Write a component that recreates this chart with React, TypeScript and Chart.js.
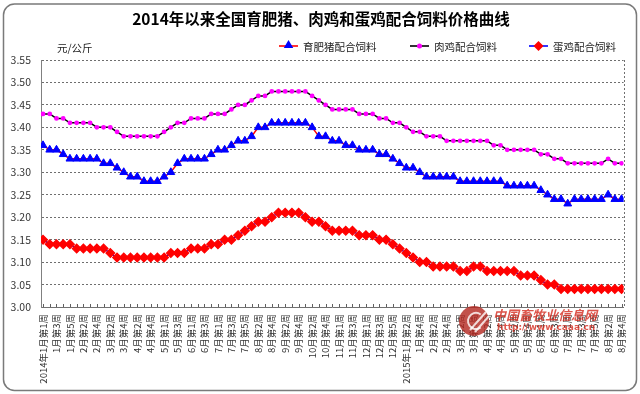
import React, { useEffect, useRef } from 'react';
import { Chart, registerables } from 'chart.js';

Chart.register(...registerables);

const chartTitle = '2014年以来全国育肥猪、肉鸡和蛋鸡配合饲料价格曲线';
const unitLabel = '元/公斤';
const seriesNames = ['育肥猪配合饲料', '肉鸡配合饲料', '蛋鸡配合饲料'];

// tick labels, one for every second weekly point
const weekLabels = [
  '2014年1月第1周', '1月第3周', '1月第5周', '2月第2周', '2月第4周', '3月第2周', '3月第4周',
  '4月第2周', '4月第4周', '5月第1周', '5月第3周', '6月第1周', '6月第3周', '7月第1周',
  '7月第3周', '7月第5周', '8月第2周', '8月第4周', '9月第2周', '9月第4周', '10月第2周',
  '10月第4周', '11月第1周', '11月第3周', '12月第1周', '12月第3周', '12月第5周',
  '2015年1月第2周', '1月第4周', '2月第2周', '2月第4周', '3月第2周', '3月第4周', '4月第2周',
  '4月第4周', '5月第2周', '5月第4周', '6月第1周', '6月第3周', '7月第1周', '7月第3周',
  '7月第5周', '8月第2周', '8月第4周',
];

// 育肥猪配合饲料 (weekly)
const pigFeed = [
  3.36, 3.35, 3.35, 3.34, 3.33, 3.33, 3.33, 3.33, 3.33, 3.32,
  3.32, 3.31, 3.30, 3.29, 3.29, 3.28, 3.28, 3.28, 3.29, 3.30,
  3.32, 3.33, 3.33, 3.33, 3.33, 3.34, 3.35, 3.35, 3.36, 3.37,
  3.37, 3.38, 3.40, 3.40, 3.41, 3.41, 3.41, 3.41, 3.41, 3.41,
  3.40, 3.38, 3.38, 3.37, 3.37, 3.36, 3.36, 3.35, 3.35, 3.35,
  3.34, 3.34, 3.33, 3.32, 3.31, 3.31, 3.30, 3.29, 3.29, 3.29,
  3.29, 3.29, 3.28, 3.28, 3.28, 3.28, 3.28, 3.28, 3.28, 3.27,
  3.27, 3.27, 3.27, 3.27, 3.26, 3.25, 3.24, 3.24, 3.23, 3.24,
  3.24, 3.24, 3.24, 3.24, 3.25, 3.24, 3.24,
];

// 肉鸡配合饲料 (weekly)
const broilerFeed = [
  3.43, 3.43, 3.42, 3.42, 3.41, 3.41, 3.41, 3.41, 3.40, 3.40,
  3.40, 3.39, 3.38, 3.38, 3.38, 3.38, 3.38, 3.38, 3.39, 3.40,
  3.41, 3.41, 3.42, 3.42, 3.42, 3.43, 3.43, 3.43, 3.44, 3.45,
  3.45, 3.46, 3.47, 3.47, 3.48, 3.48, 3.48, 3.48, 3.48, 3.48,
  3.47, 3.46, 3.45, 3.44, 3.44, 3.44, 3.44, 3.43, 3.43, 3.43,
  3.42, 3.42, 3.41, 3.41, 3.40, 3.39, 3.39, 3.38, 3.38, 3.38,
  3.37, 3.37, 3.37, 3.37, 3.37, 3.37, 3.37, 3.36, 3.36, 3.35,
  3.35, 3.35, 3.35, 3.35, 3.34, 3.34, 3.33, 3.33, 3.32, 3.32,
  3.32, 3.32, 3.32, 3.32, 3.33, 3.32, 3.32,
];

// 蛋鸡配合饲料 (weekly)
const layerFeed = [
  3.15, 3.14, 3.14, 3.14, 3.14, 3.13, 3.13, 3.13, 3.13, 3.13,
  3.12, 3.11, 3.11, 3.11, 3.11, 3.11, 3.11, 3.11, 3.11, 3.12,
  3.12, 3.12, 3.13, 3.13, 3.13, 3.14, 3.14, 3.15, 3.15, 3.16,
  3.17, 3.18, 3.19, 3.19, 3.20, 3.21, 3.21, 3.21, 3.21, 3.20,
  3.19, 3.19, 3.18, 3.17, 3.17, 3.17, 3.17, 3.16, 3.16, 3.16,
  3.15, 3.15, 3.14, 3.13, 3.12, 3.11, 3.10, 3.10, 3.09, 3.09,
  3.09, 3.09, 3.08, 3.08, 3.09, 3.09, 3.08, 3.08, 3.08, 3.08,
  3.08, 3.07, 3.07, 3.07, 3.06, 3.05, 3.05, 3.04, 3.04, 3.04,
  3.04, 3.04, 3.04, 3.04, 3.04, 3.04, 3.04,
];

const Y_MIN = 3.0;
const Y_MAX = 3.55;
const Y_STEP = 0.05;

const FONT = "'Noto Sans CJK SC', 'DejaVu Sans', sans-serif";

function drawTriangle(ctx: CanvasRenderingContext2D, x: number, y: number, r: number) {
  ctx.beginPath();
  ctx.moveTo(x, y - r);
  ctx.lineTo(x + r * 0.95, y + r * 0.6);
  ctx.lineTo(x - r * 0.95, y + r * 0.6);
  ctx.closePath();
  ctx.fill();
}

const decorPlugin = {
  id: 'decor',
  beforeDraw(chart: any) {
    const ctx = chart.ctx as CanvasRenderingContext2D;
    ctx.save();
    ctx.fillStyle = '#ffffff';
    ctx.fillRect(0, 0, chart.width, chart.height);
    ctx.restore();
  },
  afterDraw(chart: any) {
    const ctx = chart.ctx as CanvasRenderingContext2D;
    const { right, top, bottom } = chart.chartArea;
    const xs = chart.scales.x;
    ctx.save();

    // dotted right border of the plot
    ctx.strokeStyle = '#707070';
    ctx.lineWidth = 1;
    ctx.setLineDash([2, 2]);
    ctx.beginPath();
    ctx.moveTo(Math.round(right) + 0.5, top);
    ctx.lineTo(Math.round(right) + 0.5, bottom);
    ctx.stroke();
    ctx.setLineDash([]);

    // small inner tick marks on the x axis
    ctx.strokeStyle = '#606060';
    ctx.beginPath();
    for (let i = 0; i < pigFeed.length; i++) {
      const px = Math.round(xs.getPixelForValue(i)) + 0.5;
      ctx.moveTo(px, bottom);
      ctx.lineTo(px, bottom - 3);
    }
    ctx.stroke();

    // outer rounded frame
    ctx.strokeStyle = '#7a7a7a';
    ctx.lineWidth = 1.5;
    ctx.beginPath();
    (ctx as any).roundRect(3.5, 4, 633, 386.5, 11);
    ctx.stroke();

    // title
    ctx.fillStyle = '#000000';
    ctx.font = `bold 15.5px ${FONT}`;
    ctx.textAlign = 'center';
    ctx.textBaseline = 'middle';
    ctx.fillText(chartTitle, 321, 19);

    // unit label
    ctx.font = `10.5px ${FONT}`;
    ctx.textAlign = 'left';
    ctx.fillStyle = '#222222';
    ctx.fillText(unitLabel, 57, 48);

    // legend
    const ly = 46;
    const items = [
      { x: 279, line: '#FF0000', marker: 'tri', mc: '#0000FF', tx: 303 },
      { x: 410, line: '#000000', marker: 'dot', mc: '#FF00FF', tx: 434 },
      { x: 529, line: '#0000FF', marker: 'dia', mc: '#FF0000', tx: 553 },
    ];
    items.forEach((it, k) => {
      ctx.strokeStyle = it.line;
      ctx.lineWidth = 1.6;
      ctx.beginPath();
      ctx.moveTo(it.x, ly);
      ctx.lineTo(it.x + 19, ly);
      ctx.stroke();
      ctx.fillStyle = it.mc;
      const cx = it.x + 9.5;
      if (it.marker === 'tri') {
        drawTriangle(ctx, cx, ly - 1, 5);
      } else if (it.marker === 'dot') {
        ctx.beginPath();
        ctx.arc(cx, ly, 2.5, 0, Math.PI * 2);
        ctx.fill();
      } else {
        ctx.beginPath();
        ctx.moveTo(cx, ly - 5);
        ctx.lineTo(cx + 5, ly);
        ctx.lineTo(cx, ly + 5);
        ctx.lineTo(cx - 5, ly);
        ctx.closePath();
        ctx.fill();
      }
      ctx.fillStyle = '#222222';
      ctx.font = `10.5px ${FONT}`;
      ctx.textAlign = 'left';
      ctx.textBaseline = 'middle';
      ctx.fillText(seriesNames[k], it.tx, ly + 1);
    });

    // watermark
    ctx.globalAlpha = 0.8;
    ctx.fillStyle = '#b3261e';
    ctx.beginPath();
    ctx.arc(474, 321, 15, 0, Math.PI * 2);
    ctx.fill();
    ctx.strokeStyle = '#ffffff';
    ctx.lineWidth = 2;
    ctx.beginPath();
    ctx.arc(476, 321, 8, Math.PI * 0.3, Math.PI * 1.7);
    ctx.stroke();
    ctx.beginPath();
    ctx.moveTo(470, 330);
    ctx.lineTo(486, 312);
    ctx.moveTo(475, 332);
    ctx.lineTo(489, 316);
    ctx.stroke();
    ctx.fillStyle = '#d42a1e';
    ctx.font = `bold italic 13px ${FONT}`;
    ctx.textAlign = 'left';
    ctx.fillText('中国畜牧业信息网', 493, 315);
    ctx.font = `bold 9px 'DejaVu Sans', sans-serif`;
    ctx.fillText('http://www.caaa.cn', 497, 328);
    ctx.globalAlpha = 1;

    ctx.restore();
  },
};

export default function App() {
  const ref = useRef<HTMLCanvasElement>(null);

  useEffect(() => {
    document.body.style.margin = '0';
    const canvas = ref.current!;
    const toPts = (arr: number[]) => arr.map((v, i) => ({ x: i, y: v }));
    const chart = new Chart(canvas, {
      type: 'line',
      data: {
        datasets: [
          {
            label: seriesNames[0],
            data: toPts(pigFeed),
            borderColor: '#FF0000',
            borderWidth: 1.5,
            pointStyle: 'triangle',
            pointRadius: 4.5,
            pointBackgroundColor: '#0000FF',
            pointBorderColor: '#0000FF',
            pointBorderWidth: 1,
            tension: 0,
          },
          {
            label: seriesNames[1],
            data: toPts(broilerFeed),
            borderColor: '#000000',
            borderWidth: 1.5,
            pointStyle: 'circle',
            pointRadius: 2.4,
            pointBackgroundColor: '#FF00FF',
            pointBorderColor: '#FF00FF',
            pointBorderWidth: 0,
            tension: 0,
          },
          {
            label: seriesNames[2],
            data: toPts(layerFeed),
            borderColor: '#0000FF',
            borderWidth: 1.5,
            pointStyle: 'rectRot',
            pointRadius: 4.4,
            pointBackgroundColor: '#FF0000',
            pointBorderColor: '#FF0000',
            pointBorderWidth: 1.2,
            tension: 0,
          },
        ],
      },
      options: {
        animation: false,
        responsive: false,
        devicePixelRatio: 1,
        layout: { padding: { top: 60, right: 11, left: 0, bottom: 0 } },
        plugins: {
          legend: { display: false },
          title: { display: false },
          tooltip: { enabled: false },
        },
        scales: {
          x: {
            type: 'linear',
            min: -0.3,
            max: pigFeed.length - 1 + 0.3,
            afterBuildTicks: (s: any) => {
              s.ticks = weekLabels.map((_, i) => ({ value: i * 2 }));
            },
            afterFit: (s: any) => {
              s.height = 87;
            },
            ticks: {
              autoSkip: false,
              minRotation: 90,
              maxRotation: 90,
              padding: 7,
              color: '#333333',
              font: { family: FONT, size: 9.5 },
              callback: (v: any) => weekLabels[Math.round(Number(v) / 2)] ?? '',
            },
            grid: { display: false, drawTicks: false },
            border: { display: true, color: '#707070', width: 1 },
          },
          y: {
            min: Y_MIN,
            max: Y_MAX,
            afterFit: (s: any) => {
              s.width = 41;
            },
            ticks: {
              stepSize: Y_STEP,
              padding: 10,
              color: '#333333',
              font: { family: FONT, size: 10.5 },
              callback: (v: any) => Number(v).toFixed(2),
            },
            grid: { color: '#6e6e6e', lineWidth: 1, drawTicks: false },
            border: { display: true, color: '#808080', width: 1, dash: [2, 2] },
          },
        },
      },
      plugins: [decorPlugin],
    } as any);
    return () => chart.destroy();
  }, []);

  return (
    <div style={{ width: 640, height: 394 }}>
      <canvas ref={ref} width={640} height={394} style={{ display: 'block' }} />
    </div>
  );
}
